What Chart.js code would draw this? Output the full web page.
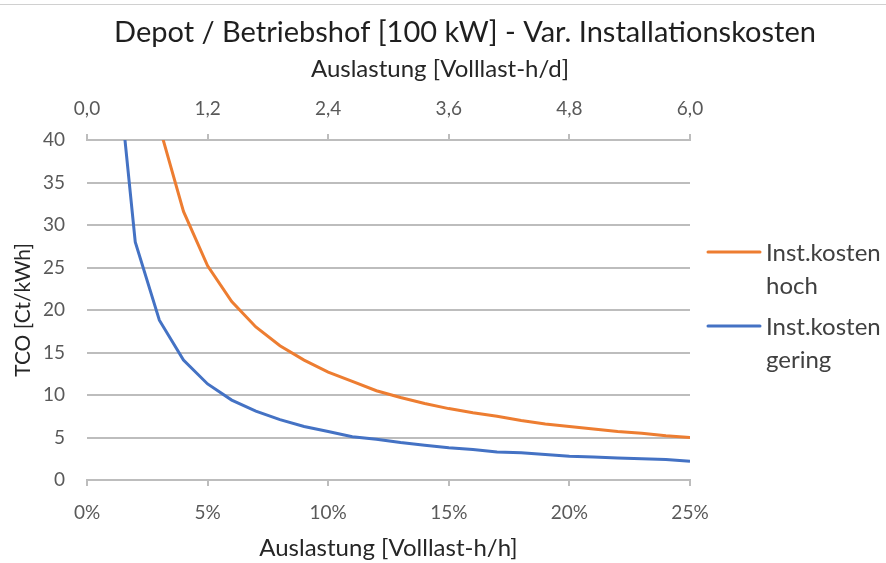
<!DOCTYPE html>
<html>
<head>
<meta charset="utf-8">
<script src="https://cdn.jsdelivr.net/npm/chart.js@4/dist/chart.umd.min.js"></script>
<style>
  html, body { margin: 0; padding: 0; background: #fff; }
  #wrap { position: relative; width: 886px; height: 563px; }
  #frame { position: absolute; left: 0; top: 4px; width: 886px; height: 1px; background: #d0d0d0; }
  canvas { position: absolute; left: 0; top: 0; }
</style>
</head>
<body>
<div id="wrap">
  <div id="frame"></div>
  <canvas id="c" width="886" height="563"></canvas>
</div>
<script>
// Auslastung in Prozent (Volllast-h je Stunde)
const loadPercent = [1, 2, 3, 4, 5, 6, 7, 8, 9, 10, 11, 12, 13, 14, 15, 16, 17, 18, 19, 20, 21, 22, 23, 24, 25];
// TCO in Ct/kWh
const tcoHigh = [126, 63, 41.6, 31.6, 25.2, 21.0, 18.0, 15.8, 14.1, 12.7, 11.6, 10.5, 9.7, 9.0, 8.4, 7.9, 7.5, 7.0, 6.6, 6.3, 6.0, 5.7, 5.5, 5.2, 5.0];
const tcoLow = [56.2, 28.0, 18.8, 14.1, 11.3, 9.4, 8.1, 7.1, 6.3, 5.7, 5.1, 4.8, 4.4, 4.1, 3.8, 3.6, 3.3, 3.2, 3.0, 2.8, 2.7, 2.6, 2.5, 2.4, 2.2];
const seriesNames = [["Inst.kosten", "hoch"], ["Inst.kosten", "gering"]];
const yTicks = [0, 5, 10, 15, 20, 25, 30, 35, 40];
const chartTitle = 'Depot / Betriebshof [100 kW] - Var. Installationskosten';
const topAxisTitle = 'Auslastung [Volllast-h/d]';
const bottomAxisTitle = 'Auslastung [Volllast-h/h]';
const yAxisTitle = 'TCO [Ct/kWh]';

const FONT = "Lato, 'Noto Sans', sans-serif";
const GRID = '#bdbdbd';

const toPoints = vals => loadPercent.map((x, i) => ({ x: x, y: vals[i] }));

// Diagrammtitel und Titel der oberen Achse
const headings = {
  id: 'headings',
  afterDraw(chart) {
    const ctx = chart.ctx;
    ctx.save();
    ctx.textAlign = 'center';
    ctx.textBaseline = 'alphabetic';
    ctx.fillStyle = '#1f1f1f';
    ctx.font = "29px " + FONT;
    ctx.fillText(chartTitle, 465, 42);
    ctx.fillStyle = '#262626';
    ctx.font = "24px " + FONT;
    ctx.fillText(topAxisTitle, 440, 77);
    ctx.restore();
  }
};

// Legende rechts neben der Zeichenfläche, Beschriftung zweizeilig
const sideLegend = {
  id: 'sideLegend',
  afterDraw(chart) {
    const ctx = chart.ctx;
    const a = chart.chartArea;
    const rows = [a.top + 112, a.top + 186];
    ctx.save();
    ctx.font = "24px " + FONT;
    ctx.textBaseline = 'middle';
    ctx.textAlign = 'left';
    chart.data.datasets.forEach((ds, i) => {
      const y = rows[i];
      ctx.strokeStyle = ds.borderColor;
      ctx.lineWidth = 3;
      ctx.lineCap = 'round';
      ctx.beginPath();
      ctx.moveTo(a.right + 18, y);
      ctx.lineTo(a.right + 70, y);
      ctx.stroke();
      ctx.fillStyle = '#404040';
      ds.legendLines.forEach((t, k) => ctx.fillText(t, a.right + 76, y + 1 + k * 33));
    });
    ctx.restore();
  }
};

new Chart(document.getElementById('c'), {
  type: 'line',
  data: {
    datasets: [
      {
        label: seriesNames[0].join(' '),
        legendLines: seriesNames[0],
        data: toPoints(tcoHigh),
        borderColor: '#ED7D31',
        backgroundColor: '#ED7D31',
        borderWidth: 3,
        pointRadius: 0,
        tension: 0,
        xAxisID: 'x'
      },
      {
        label: seriesNames[1].join(' '),
        legendLines: seriesNames[1],
        data: toPoints(tcoLow),
        borderColor: '#4472C4',
        backgroundColor: '#4472C4',
        borderWidth: 3,
        pointRadius: 0,
        tension: 0,
        xAxisID: 'x'
      }
    ]
  },
  options: {
    responsive: false,
    animation: false,
    events: [],
    layout: { padding: { left: 8, right: 196, top: 97, bottom: 0 } },
    plugins: {
      legend: { display: false },
      tooltip: { enabled: false },
      title: { display: false }
    },
    scales: {
      x: {
        type: 'linear',
        position: 'bottom',
        min: 0,
        max: 25,
        afterFit: s => { s.height = 83; },
        ticks: {
          stepSize: 5,
          color: '#595959',
          font: { family: FONT, size: 19 },
          padding: 15,
          callback: v => v + '%'
        },
        grid: { drawOnChartArea: false, drawTicks: true, tickLength: 6, color: GRID, lineWidth: 2 },
        border: { display: true, color: GRID, width: 2 },
        title: {
          display: true,
          text: bottomAxisTitle,
          color: '#262626',
          font: { family: FONT, size: 24 },
          padding: { top: 10, bottom: 0 }
        }
      },
      x2: {
        type: 'linear',
        position: 'top',
        display: true,
        min: 0,
        max: 6,
        afterFit: s => { s.height = 43; },
        ticks: {
          stepSize: 1.2,
          color: '#595959',
          font: { family: FONT, size: 19 },
          padding: 14,
          callback: v => (Math.round(v * 10) / 10).toFixed(1).replace('.', ',')
        },
        grid: { drawOnChartArea: false, drawTicks: true, tickLength: 6, color: GRID, lineWidth: 2 },
        border: { display: true, color: GRID, width: 2 },
        title: { display: false }
      },
      y: {
        type: 'linear',
        min: 0,
        max: 40,
        afterBuildTicks: axis => { axis.ticks = yTicks.map(v => ({ value: v })); },
        afterFit: s => { s.width = 79; },
        ticks: {
          color: '#595959',
          font: { family: FONT, size: 19 },
          padding: 22
        },
        grid: { drawTicks: false, color: GRID, lineWidth: 2 },
        border: { display: false },
        title: {
          display: true,
          text: yAxisTitle,
          color: '#262626',
          font: { family: FONT, size: 21 },
          padding: { top: 3, bottom: 7 }
        }
      }
    }
  },
  plugins: [headings, sideLegend]
});
</script>
</body>
</html>
